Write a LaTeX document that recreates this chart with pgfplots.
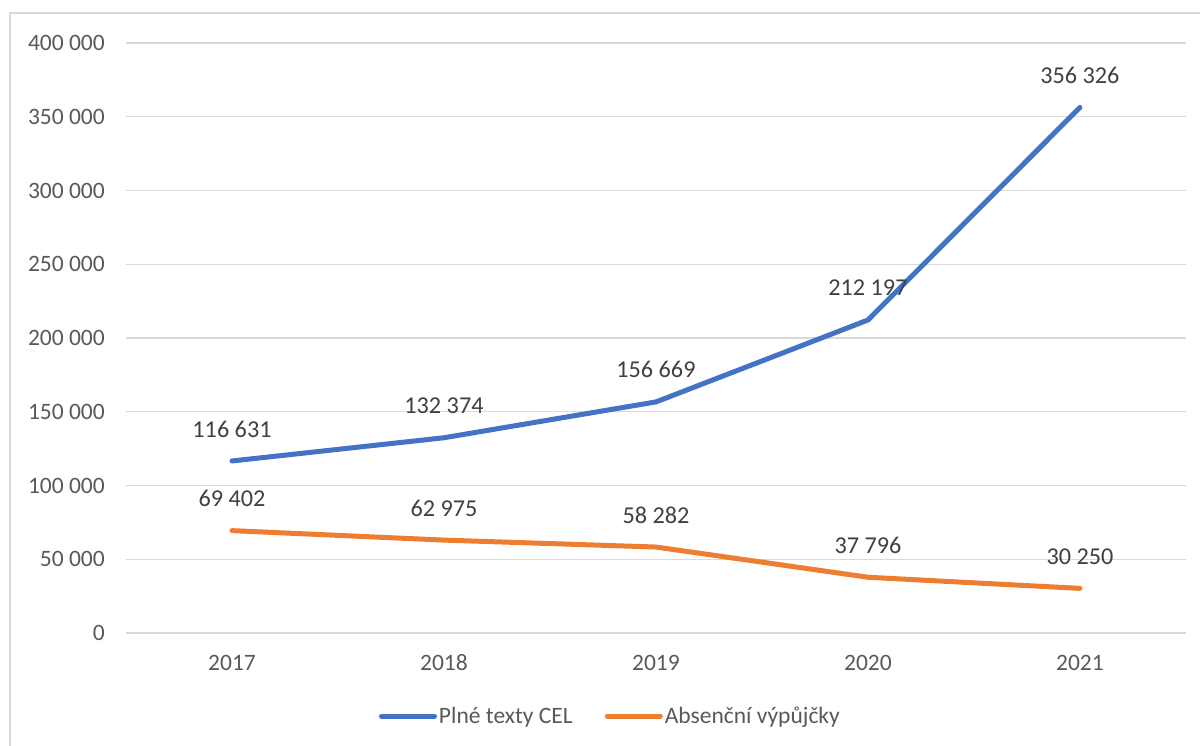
\documentclass[border=0pt]{standalone}
\usepackage{fontspec}
\setmainfont{Carlito}
\usepackage{pgfplots}
\pgfplotsset{compat=1.18}

\definecolor{cblue}{HTML}{4472C4}
\definecolor{corange}{HTML}{ED7D31}
\definecolor{gridc}{HTML}{D9D9D9}
\definecolor{ticktxt}{HTML}{595959}
\definecolor{lbltxt}{HTML}{404040}
\newcommand\cfont{\fontsize{23.5bp}{28bp}\selectfont}
\newcommand\lfont{\fontsize{24.2bp}{29bp}\selectfont}

\begin{document}
\begin{tikzpicture}
\useasboundingbox (0bp,0bp) rectangle (1200bp,746bp);
% chart frame (only left and top edges visible)
\draw[gridc, line width=1.5bp] (10bp,-20bp) -- (10bp,733bp) -- (1230bp,733bp);
\begin{axis}[
    at={(126bp,113bp)}, anchor=south west,
    scale only axis,
    width=1060bp, height=590bp,
    xmin=-0.5, xmax=4.5,
    ymin=0, ymax=400000,
    xtick={0,1,2,3,4},
    xticklabels={2017,2018,2019,2020,2021},
    ytick={0,50000,100000,150000,200000,250000,300000,350000,400000},
    yticklabels={0,50 000,100 000,150 000,200 000,250 000,300 000,350 000,400 000},
    scaled y ticks=false,
    axis line style={draw=none},
    major tick length=0pt,
    ymajorgrids,
    grid style={gridc, line width=1.2bp},
    tick label style={font=\cfont, text=ticktxt},
    xticklabel style={anchor=center, yshift=-30bp},
    yticklabel style={anchor=east, inner sep=0pt, xshift=-21bp},
    point meta=explicit symbolic,
    nodes near coords,
    nodes near coords style={font=\lfont, text=lbltxt, anchor=center, yshift=32bp},
    legend columns=2,
    legend style={draw=none, fill=none, at={(0.457,-0.1407)}, anchor=center,
        font=\cfont, text=ticktxt,
        nodes={inner sep=2bp},
        /tikz/every even column/.append style={column sep=30bp}},
    legend image code/.code={\draw[#1, line width=5bp, line cap=round] (0bp,0bp) -- (53bp,0bp);},
]
\addplot[cblue, line width=5bp, line cap=round, line join=round] coordinates {
    (0,116631) [116 631]
    (1,132374) [132 374]
    (2,156669) [156 669]
    (3,212197) [212 197]
    (4,356326) [356 326]
};
\addplot[corange, line width=5bp, line cap=round, line join=round] coordinates {
    (0,69402) [69 402]
    (1,62975) [62 975]
    (2,58282) [58 282]
    (3,37796) [37 796]
    (4,30250) [30 250]
};
\legend{Plné texty CEL, Absenční výpůjčky}
\end{axis}
\end{tikzpicture}
\end{document}
